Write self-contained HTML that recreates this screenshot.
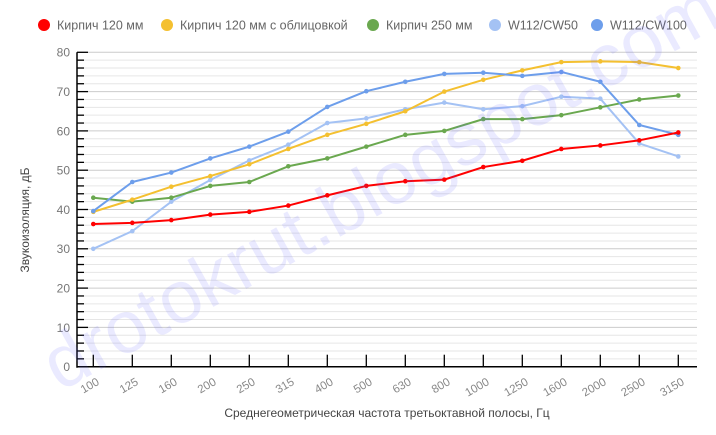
<!DOCTYPE html>
<html><head><meta charset="utf-8">
<style>
html,body{margin:0;padding:0;background:#fff;}
svg{display:block;font-family:"Liberation Sans",sans-serif;}
</style></head>
<body>
<svg id="s" width="716" height="435" viewBox="0 0 716 435" xmlns="http://www.w3.org/2000/svg">
<g id="grid"></g>
<g id="lines"></g>
<!-- legend -->
<g font-size="12.5" fill="#666">
<circle cx="44" cy="25" r="6" fill="#ff0000"/><text x="57" y="29.5">Кирпич 120 мм</text>
<circle cx="167" cy="25" r="6" fill="#f4c030"/><text x="180" y="29.5">Кирпич 120 мм с облицовкой</text>
<circle cx="373" cy="25" r="6" fill="#6aa84f"/><text x="386" y="29.5">Кирпич 250 мм</text>
<circle cx="495" cy="25" r="6" fill="#a4c2f4"/><text x="508" y="29.5">W112/CW50</text>
<circle cx="597" cy="25" r="6" fill="#6d9eeb"/><text x="610" y="29.5">W112/CW100</text>
</g>
<!-- y labels -->
<g font-size="12" fill="#777" text-anchor="end">
<text x="70" y="56.5">80</text><text x="70" y="96">70</text><text x="70" y="135.3">60</text>
<text x="70" y="174.6">50</text><text x="70" y="213.9">40</text><text x="70" y="253.2">30</text>
<text x="70" y="292.5">20</text><text x="70" y="331.8">10</text><text x="70" y="371">0</text>
</g>
<text transform="translate(29,220) rotate(-90)" font-size="12" fill="#444" text-anchor="middle">Звукоизоляция, дБ</text>
<text x="387" y="417" font-size="12" fill="#444" text-anchor="middle">Среднегеометрическая частота третьоктавной полосы, Гц</text>
<!-- x labels -->
<g font-size="11.5" fill="#888" text-anchor="end">
<text transform="translate(100,384) rotate(-30)">100</text>
<text transform="translate(139,384) rotate(-30)">125</text>
<text transform="translate(178,384) rotate(-30)">160</text>
<text transform="translate(217,384) rotate(-30)">200</text>
<text transform="translate(256,384) rotate(-30)">250</text>
<text transform="translate(295,384) rotate(-30)">315</text>
<text transform="translate(334,384) rotate(-30)">400</text>
<text transform="translate(373,384) rotate(-30)">500</text>
<text transform="translate(412,384) rotate(-30)">630</text>
<text transform="translate(451,384) rotate(-30)">800</text>
<text transform="translate(490,384) rotate(-30)">1000</text>
<text transform="translate(529,384) rotate(-30)">1250</text>
<text transform="translate(568,384) rotate(-30)">1600</text>
<text transform="translate(607,384) rotate(-30)">2000</text>
<text transform="translate(646,384) rotate(-30)">2500</text>
<text transform="translate(685,384) rotate(-30)">3150</text>
</g>
<text transform="translate(60,392) rotate(-29)" font-size="74" fill="rgba(90,90,255,0.13)" textLength="760" lengthAdjust="spacingAndGlyphs">drotokrut.blogspot.com</text>
</svg>
<script>
var NS="http://www.w3.org/2000/svg";
function el(p,t,a){var e=document.createElementNS(NS,t);for(var k in a)e.setAttribute(k,a[k]);p.appendChild(e);return e;}
var g=document.getElementById('grid'),L=document.getElementById('lines');
function Y(v){return 366.7-3.93*v;}function X(i){return 93.3+39*i;}
for(var v=2;v<=80;v+=2){var maj=v%10==0;el(g,'line',{x1:77,x2:697,y1:Y(v),y2:Y(v),stroke:maj?'#ccc':'#e6e6e6','stroke-width':1});
el(g,'line',{x1:77,x2:maj?88:84,y1:Y(v),y2:Y(v),stroke:'#000','stroke-width':1.3});}
el(g,'line',{x1:77,x2:77,y1:Y(80),y2:Y(0)+1,stroke:'#000','stroke-width':1.5});
el(g,'line',{x1:77,x2:697,y1:Y(0),y2:Y(0),stroke:'#000','stroke-width':1.5});
for(var i=0;i<16;i++)el(g,'line',{x1:X(i),x2:X(i),y1:Y(0),y2:Y(0)-12,stroke:'#000','stroke-width':1.3});
var S=[
['#a4c2f4',[30,34.5,42,47.5,52.5,56.5,62,63.2,65.5,67.2,65.5,66.3,68.7,68.2,56.8,53.5]],
['#6aa84f',[43,42,43,46,47,51,53,56,59,60,63,63,64,66,68,69]],
['#f4c030',[39.4,42.5,45.8,48.5,51.5,55.4,59,61.8,65,70,73,75.4,77.5,77.7,77.5,76]],
['#6d9eeb',[39.6,47,49.4,53,56,59.8,66.1,70.1,72.5,74.5,74.8,74,75,72.5,61.5,59]],
['#ff0000',[36.3,36.6,37.3,38.7,39.4,41,43.6,46,47.2,47.6,50.8,52.4,55.4,56.3,57.6,59.6]]];
S.forEach(function(s){var p=s[1].map(function(v,i){return X(i)+','+Y(v);}).join(' ');
el(L,'polyline',{points:p,fill:'none',stroke:s[0],'stroke-width':2,'stroke-linejoin':'round'});
s[1].forEach(function(v,i){el(L,'circle',{cx:X(i),cy:Y(v),r:2.3,fill:s[0]});});});
</script>
</body></html>
